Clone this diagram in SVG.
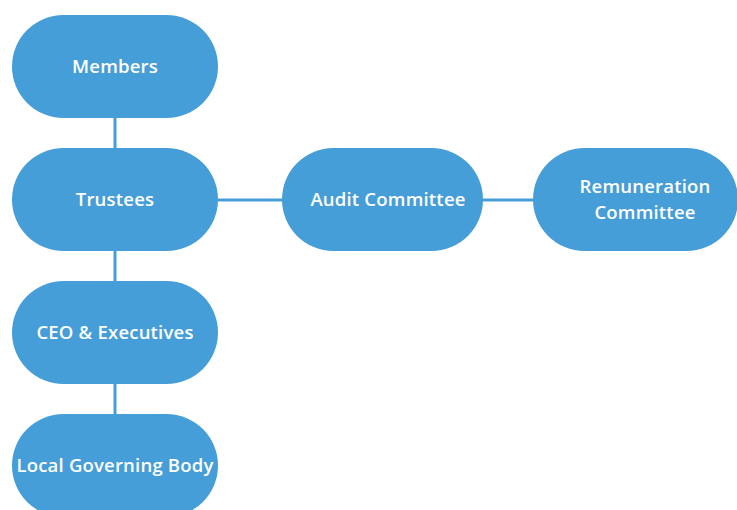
<svg xmlns="http://www.w3.org/2000/svg" width="737" height="510" viewBox="0 0 737 510">
  <style>
    .node rect { fill: #459ed8; }
    .node text { fill: #ffffff; font-family: "Open Sans", sans-serif; font-weight: 600; font-size: 18.5px; text-anchor: middle; letter-spacing: 0.2px; }
    #connectors line { stroke: #459ed8; stroke-width: 3; }
  </style>
  <rect width="737" height="510" fill="#ffffff"/>
  <g id="connectors">
    <line x1="115" y1="117" x2="115" y2="149"/>
    <line x1="115" y1="250" x2="115" y2="282"/>
    <line x1="115" y1="383" x2="115" y2="415"/>
    <line x1="218" y1="200" x2="283" y2="200"/>
    <line x1="482" y1="200" x2="534" y2="200"/>
  </g>
  <g id="members" class="node">
    <rect x="12" y="15" width="206" height="103" rx="51.5"/>
    <text x="115" y="73">Members</text>
  </g>
  <g id="trustees" class="node">
    <rect x="12" y="148" width="206" height="103" rx="51.5"/>
    <text x="115" y="206">Trustees</text>
  </g>
  <g id="ceo" class="node">
    <rect x="12" y="281" width="206" height="103" rx="51.5"/>
    <text x="115" y="339">CEO &amp; Executives</text>
  </g>
  <g id="lgb" class="node">
    <rect x="12" y="414" width="206" height="103" rx="51.5"/>
    <text x="115" y="472">Local Governing Body</text>
  </g>
  <g id="audit" class="node">
    <rect x="282" y="148" width="201" height="103" rx="51.5"/>
    <text x="388" y="206">Audit Committee</text>
  </g>
  <g id="remuneration" class="node">
    <rect x="533" y="148" width="205" height="103" rx="51.5"/>
    <text x="645" y="193">Remuneration</text>
    <text x="645" y="219">Committee</text>
  </g>
</svg>
